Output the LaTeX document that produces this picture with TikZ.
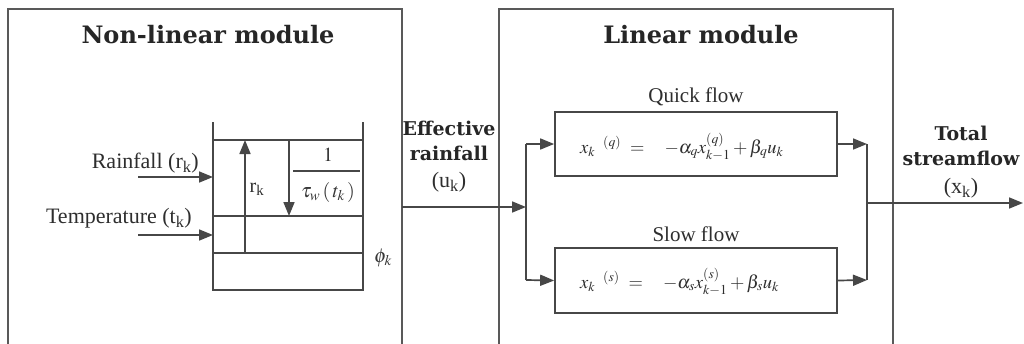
\documentclass[tikz,border=0pt]{standalone}
\usepackage{mathptmx}
\usepackage[no-math]{fontspec}
\setmainfont{Liberation Serif}
\newfontfamily\ttlfont{DejaVu Serif}
\usetikzlibrary{arrows.meta,positioning}
\tikzset{
  ln/.style={draw=black!72, line width=1.7pt},
  arr/.style={ln, -{Triangle[length=14pt,width=11pt]}},
  txt/.style={text=black!82, inner sep=0pt, font=\fontsize{22}{26}\selectfont},
  eq/.style={text=black!78, inner sep=0pt, font=\fontsize{20}{24}\selectfont},
  eqline/.style={text=black!82, inner sep=0pt, anchor=base west, font=\fontsize{18.5}{22}\selectfont},
  ttl/.style={text=black!85, inner sep=0pt, font=\ttlfont\bfseries\fontsize{24}{28}\selectfont},
  lbl/.style={text=black!85, inner sep=0pt, align=center, font=\ttlfont\bfseries\fontsize{19}{25}\selectfont},
  modline/.style={ln, draw=black!65},
  flowbox/.style={ln, minimum width=282pt, inner sep=0pt},
}
\begin{document}
\begin{tikzpicture}[x=1pt,y=-1pt]
\useasboundingbox (0,0) rectangle (1024,343);
\clip (0,0) rectangle (1024,343);
\fill[white] (0,0) rectangle (1024,343);
% module boxes
\coordinate (nltl) at (8,9);
\coordinate (nlbr) at (402,361);
\coordinate (lmtl) at (499,9);
\coordinate (lmbr) at (893,361);
\draw[modline] (nltl) rectangle (nlbr);
\draw[modline] (lmtl) rectangle (lmbr);
\node[ttl] (nlt) at (208,35) {Non-linear module};
\node[ttl] (lmt) at (701,35) {Linear module};
% tank
\coordinate (tl) at (213,122);
\coordinate (tr) at (363,122);
\coordinate (bl) at (213,290);
\coordinate (br) at (363,290);
\draw[ln] (tl) -- (bl) -- (br) -- (tr);
\coordinate (h1l) at (213,140); \coordinate (h1r) at (363,140);
\coordinate (h2l) at (213,216); \coordinate (h2r) at (363,216);
\coordinate (h3l) at (213,253); \coordinate (h3r) at (363,253);
\draw[ln] (h1l) -- (h1r);
\draw[ln] (h2l) -- (h2r);
\draw[ln] (h3l) -- (h3r);
\coordinate (upb) at (245,253); \coordinate (upt) at (245,140);
\draw[arr] (upb) -- (upt);
\coordinate (dnt) at (289,140); \coordinate (dnb) at (289,216);
\draw[arr] (dnt) -- (dnb);
\node[txt, font=\fontsize{20}{24}\selectfont] (rk) at (257,189) {r\textsubscript{k}};
\node[eq] (one) at (328,155) {$1$};
\coordinate (fbl) at (293,171); \coordinate (fbr) at (360,171);
\draw[ln] (fbl) -- (fbr);
\node[eq] (tau) at (328,192) {$\tau_w\,(\,t_k\,)$};
\node[eq] (phi) at (383,258) {$\phi_k$};
% inputs
\node[txt, anchor=east] (rain) at (199,163) {Rainfall (r\textsubscript{k})};
\node[txt, anchor=east] (temp) at (192,218) {Temperature (t\textsubscript{k})};
\coordinate (rin) at (138,177); \coordinate (rtip) at (213,177);
\coordinate (tin) at (138,235); \coordinate (ttip) at (213,235);
\draw[arr] (rin) -- (rtip);
\draw[arr] (tin) -- (ttip);
% effective rainfall
\node[lbl] (eff) at (449,141) {Effective\\rainfall};
\node[txt] (uk) at (449,182) {(u\textsubscript{k})};
\coordinate (jin) at (526,207);
\coordinate (jq) at (526,144);
\coordinate (js) at (526,280);
\draw[arr] (jin -| nlbr) -- (jin);
\draw[ln] (jq) -- (js);
% flow boxes
\node[flowbox, minimum height=64pt] (q) at (696,144) {};
\node[flowbox, minimum height=65pt] (s) at (696,280.5) {};
\node[eqline] (qeq) at (580,153)
  {$x_k\hspace{8pt}{}^{(q)}\hspace{9pt}{=}\hspace{20pt}{-}\alpha_q x_{k-1}^{(q)} + \beta_q u_k$};
\node[eqline] (seq) at (580,288)
  {$x_k\hspace{8pt}{}^{(s)}\hspace{9pt}{=}\hspace{20pt}{-}\alpha_s x_{k-1}^{(s)} + \beta_s u_k$};
\node[txt, font=\fontsize{21}{24}\selectfont] (qt) at (696,97) {Quick flow};
\node[txt, font=\fontsize{21}{24}\selectfont] (st) at (696,234) {Slow flow};
\draw[arr] (jq) -- (q.west);
\draw[arr] (js) -- (s.west);
% outputs
\coordinate (oq) at (867,144);
\coordinate (os) at (867,280);
\coordinate (jout) at (867,203);
\coordinate (oend) at (1023,203);
\draw[arr] (q.east) -- (oq);
\draw[arr] (s.east) -- (os);
\draw[ln] (oq) -- (os);
\draw[arr] (jout) -- (oend);
\node[lbl] (tot) at (961,146) {Total\\streamflow};
\node[txt] (xk) at (961,188) {(x\textsubscript{k})};
\end{tikzpicture}
\end{document}
